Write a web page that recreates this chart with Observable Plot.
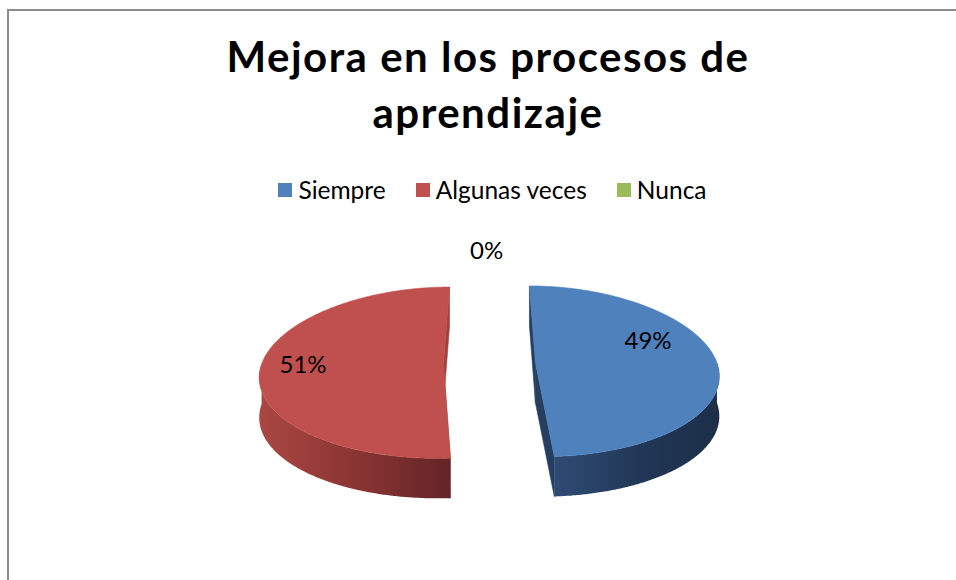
<!DOCTYPE html>
<html>
<head>
<meta charset="utf-8">
<script src="https://cdn.jsdelivr.net/npm/d3@7"></script>
<script src="https://cdn.jsdelivr.net/npm/@observablehq/plot@0.6"></script>
<style>
  html, body { margin: 0; padding: 0; background: #fff; }
  body { width: 956px; height: 580px; overflow: hidden; position: relative; font-family: Lato, "Open Sans", sans-serif; }
  #frame { position: absolute; left: 7px; top: 9px; width: 1000px; height: 600px;
           border-left: 2px solid #8c8c8c; border-top: 2px solid #8c8c8c; }
  #title { position: absolute; left: 0; width: 976px; top: 28px; text-align: center;
           font-weight: 700; font-size: 42px; letter-spacing: 1.5px; line-height: 56px; color: #000; }
  #legend { position: absolute; left: 0; width: 985px; top: 176px; display: flex; justify-content: center;
            align-items: center; font-size: 24.5px; line-height: 28px; color: #000; }
  .item { display: flex; align-items: center; margin: 0 15px; }
  .sw { width: 14px; height: 14px; margin-right: 6px; }
  #chart { position: absolute; left: 0; top: 215px; }
</style>
</head>
<body>
<div id="frame"></div>
<div id="title">Mejora en los procesos de<br>aprendizaje</div>
<div id="legend"></div>
<div id="chart"></div>
<script>
// ---- data ----
const categories = ["Siempre", "Algunas veces", "Nunca"];
const values = [49, 51, 0];
const labels = ["49%", "51%", "0%"];

// ---- styles ----
const topColors = {"Siempre": "#4f81bd", "Algunas veces": "#c0504d", "Nunca": "#9bbb59"};
const wallColors = {"Siempre": "#263f61", "Algunas veces": "#a4403c", "Nunca": "#76923c"};
const sideGrad = {"Siempre": "gSideBlue", "Algunas veces": "gSideRed", "Nunca": "gSideGreen"};
// label placement inside each slice: [angle in degrees, radius fraction]
const labelPolar = {"Siempre": [68.4, 0.70], "Algunas veces": [268.8, 0.77], "Nunca": [-0.9, 1.27]};

const W = 956, H = 365, TOP = 215;
const G = {cx: 489, cy: 371.5 - TOP, rx: 158, ry: 85.5, depth: 40, explode: 40, persp: 0.15, bias: -0.1};

// legend
const legend = document.getElementById("legend");
categories.forEach(c => {
  const it = document.createElement("div"); it.className = "item";
  const sw = document.createElement("div"); sw.className = "sw"; sw.style.background = topColors[c];
  const tx = document.createElement("span"); tx.textContent = c;
  it.appendChild(sw); it.appendChild(tx); legend.appendChild(it);
});

function project(u, v, z) {
  const f = 1 + G.persp * (v + 1);
  const gy = (v + G.bias) / (1 + G.bias * v);
  return {x: G.cx + u * G.rx * f, y: G.cy + gy * G.ry + z * G.depth};
}

const slices = categories.map((c, i) => ({category: c, value: values[i], label: labels[i]}));
const arcs = d3.pie().sort(null).value(d => d.value).startAngle(0).endAngle(2 * Math.PI)(slices);

const E = G.explode / G.rx;
const walls = [], sides = [], tops = [], texts = [];
function sample(a, b) {
  const n = Math.max(2, Math.ceil(Math.abs(b - a) / (Math.PI / 360)));
  return d3.range(n + 1).map(k => a + (b - a) * k / n);
}
arcs.forEach(arc => {
  const c = arc.data.category;
  const mid = (arc.startAngle + arc.endAngle) / 2;
  const ou = E * Math.sin(mid), ov = -E * Math.cos(mid);
  const rim = (t, z, r = 1) => project(ou + r * Math.sin(t), ov - r * Math.cos(t), z);
  const ctr = z => project(ou, ov, z);
  const lp = labelPolar[c];
  const lpt = rim(lp[0] * Math.PI / 180, 0, lp[1]);
  texts.push({x: lpt.x, y: lpt.y, label: arc.data.label});
  if (arc.data.value <= 0) return;
  [arc.startAngle, arc.endAngle].forEach(t => {
    walls.push({category: c, pts: [ctr(0), rim(t, 0), rim(t, 1), ctr(1), ctr(0)]});
  });
  const lo = Math.max(arc.startAngle, Math.PI / 2), hi = Math.min(arc.endAngle, 3 * Math.PI / 2);
  if (hi > lo) {
    const s = sample(lo, hi);
    sides.push({category: c, pts: [...s.map(t => rim(t, 0)), ...s.slice().reverse().map(t => rim(t, 1))]});
  }
  tops.push({category: c, pts: [ctr(0), ...sample(arc.startAngle, arc.endAngle).map(t => rim(t, 0)), ctr(0)]});
});

const poly = (p, fill, stroke) => Plot.line(p.pts, {x: "x", y: "y", fill, stroke: stroke || fill, strokeWidth: 0.6, curve: "linear-closed"});

const marks = [
  ...walls.map(p => poly(p, wallColors[p.category])),
  ...sides.map(p => poly(p, `url(#${sideGrad[p.category]})`, "none")),
  ...tops.map(p => poly(p, topColors[p.category])),
  Plot.text(texts, {x: "x", y: "y", text: "label", fontSize: 24, fill: "#000", fontFamily: "Lato, sans-serif"})
];

const svg = Plot.plot({
  width: W, height: H,
  marginTop: 0, marginBottom: 0, marginLeft: 0, marginRight: 0,
  x: {domain: [0, W], range: [0, W], axis: null},
  y: {domain: [0, H], range: [0, H], axis: null},
  style: {background: "transparent", overflow: "visible"},
  marks
});
d3.select(svg).insert("defs", ":first-child").html(`
  <linearGradient id="gSideBlue" x1="0" y1="0" x2="1" y2="0">
    <stop offset="0" stop-color="#2f4b74"/><stop offset="0.5" stop-color="#223858"/><stop offset="1" stop-color="#1c2e48"/>
  </linearGradient>
  <linearGradient id="gSideRed" x1="0" y1="0" x2="1" y2="0">
    <stop offset="0" stop-color="#ab4743"/><stop offset="0.5" stop-color="#8a3532"/><stop offset="1" stop-color="#642428"/>
  </linearGradient>
  <linearGradient id="gSideGreen" x1="0" y1="0" x2="1" y2="0">
    <stop offset="0" stop-color="#7c9a44"/><stop offset="1" stop-color="#4f6429"/>
  </linearGradient>`);
document.getElementById("chart").appendChild(svg);
</script>
</body>
</html>
